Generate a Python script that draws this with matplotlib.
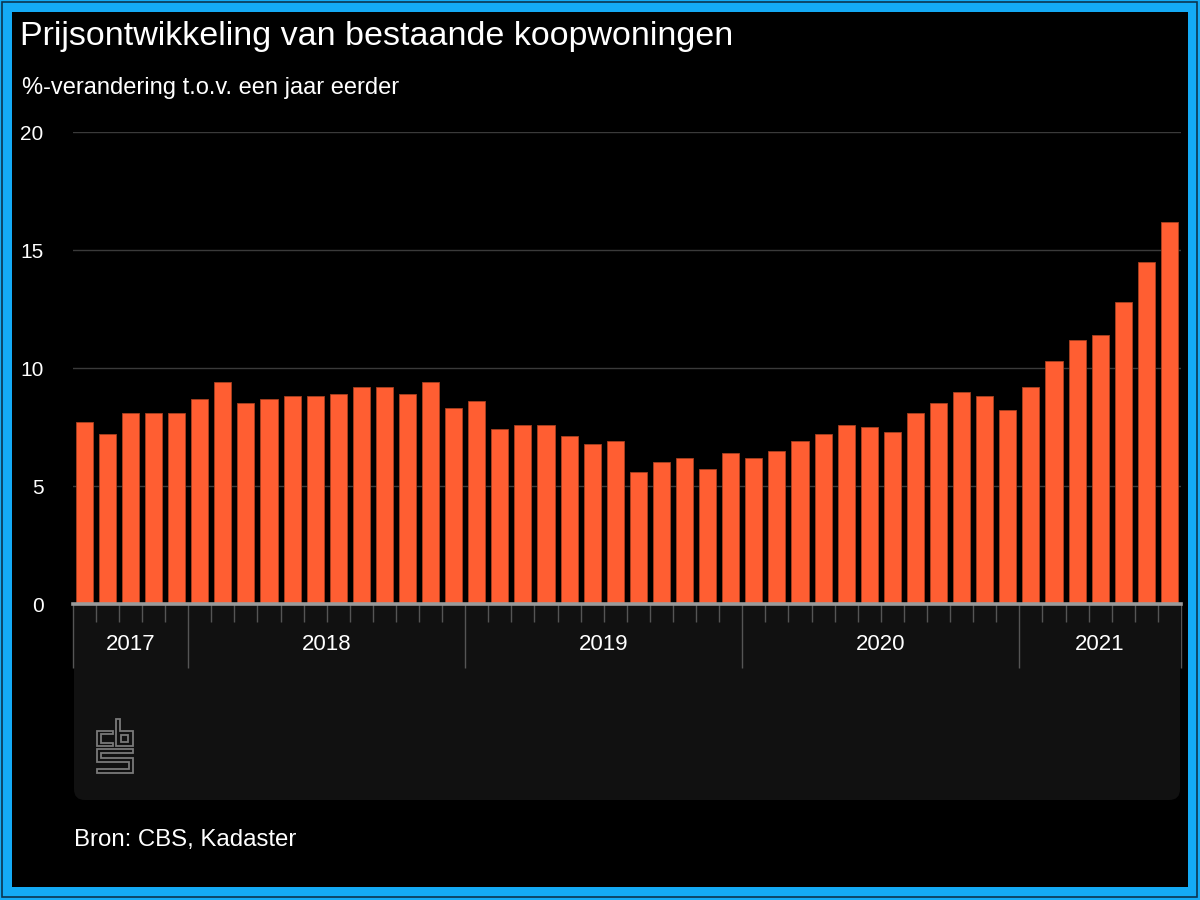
import matplotlib.pyplot as plt
from matplotlib.patches import Rectangle, FancyBboxPatch, Polygon
import numpy as np

plt.rcParams['font.family'] = ['Liberation Sans', 'DejaVu Sans']

# jaarmutatie prijsindex bestaande koopwoningen, aug 2017 - jul 2021
years = ['2017', '2018', '2019', '2020', '2021']
months_per_year = [5, 12, 12, 12, 7]
values = [7.7, 7.2, 8.1, 8.1, 8.1,
          8.7, 9.4, 8.5, 8.7, 8.8, 8.8, 8.9, 9.2, 9.2, 8.9, 9.4, 8.3,
          8.6, 7.4, 7.6, 7.6, 7.1, 6.8, 6.9, 5.6, 6.0, 6.2, 5.7, 6.4,
          6.2, 6.5, 6.9, 7.2, 7.6, 7.5, 7.3, 8.1, 8.5, 9.0, 8.8, 8.2,
          9.2, 10.3, 11.2, 11.4, 12.8, 14.5, 16.2]
yticks = [0, 5, 10, 15, 20]

W, H = 1200, 900


def fx(px):
    return px / W


def fy(py):
    return 1 - py / H


fig = plt.figure(figsize=(12, 9), dpi=100)
fig.patch.set_facecolor('#14AAF5')

# blauwe rand met donkere lijnen
fig.patches.append(Rectangle((fx(2), fy(897)), fx(1195), 895 / H, transform=fig.transFigure,
                             facecolor='none', edgecolor='#0B3550', lw=1.2, zorder=-4))
fig.patches.append(Rectangle((fx(12), fy(887)), fx(1176), 875 / H, transform=fig.transFigure,
                             facecolor='black', edgecolor='none', zorder=-3))
# donker paneel onder de as
fig.patches.append(FancyBboxPatch((fx(74), fy(800)), fx(1106), 230 / H,
                                  boxstyle='round,pad=0,rounding_size=0.009',
                                  transform=fig.transFigure, facecolor='#111111',
                                  edgecolor='none', zorder=-2, mutation_aspect=1.33))

ax = fig.add_axes([fx(72.7), fy(604), fx(1181 - 72.7), (604 - 132) / H])
ax.set_facecolor('black')

n = len(values)
x = np.arange(n)
ax.bar(x, values, width=0.74, color='#FF5E32', edgecolor='#A8401F', linewidth=0.6, zorder=3)

ax.set_xlim(-0.5, n - 0.5)
ax.set_ylim(0, 20)
ax.set_yticks(yticks)
ax.set_yticklabels([str(t) for t in yticks])
for t in yticks[1:]:
    ax.axhline(t, color='#3a3a3a', lw=1, zorder=1)
ax.axhline(0, color='#9a9a9a', lw=2.6, zorder=4, clip_on=False)

for s in ax.spines.values():
    s.set_visible(False)

ax.tick_params(axis='y', length=0, labelsize=15, labelcolor='white', pad=21)

# maandstreepjes en jaargrenzen
bounds = np.cumsum([0] + months_per_year) - 0.5
ax.set_xticks(bounds)
ax.set_xticklabels([])
ax.set_xticks(np.arange(n + 1) - 0.5, minor=True)
ax.tick_params(axis='x', which='major', length=46, width=1, color='#555555', direction='out', pad=0)
ax.tick_params(axis='x', which='minor', length=13, width=1, color='#555555', direction='out')

for i, yr in enumerate(years):
    mid = (bounds[i] + bounds[i + 1]) / 2
    ax.annotate(yr, xy=(mid, 0), xycoords=('data', 'axes fraction'),
                xytext=(0, -29.5), textcoords='offset points',
                ha='center', va='center', fontsize=16, color='white')

# cbs-logo
lx, ly = 90, 710


def logo_pts(pts):
    return [(fx(lx + a / 3), fy(ly + b / 3)) for a, b in pts]


shapes = [
    [(68, 62), (22, 62), (22, 108), (68, 108), (68, 98), (32, 98), (32, 72), (68, 72)],
    [(78, 28), (90, 28), (90, 62), (128, 62), (128, 108), (78, 108)],
    [(94, 75), (113, 75), (113, 95), (94, 95)],
    [(22, 118), (128, 118), (128, 130), (34, 130), (34, 144), (128, 144), (128, 188),
     (22, 188), (22, 176), (116, 176), (116, 156), (22, 156)],
]
for pts in shapes:
    fig.patches.append(Polygon(logo_pts(pts), closed=True, transform=fig.transFigure,
                               facecolor='none', edgecolor='#7a7a7a', lw=1.3, zorder=5))

fig.text(fx(20), fy(36), 'Prijsontwikkeling van bestaande koopwoningen',
         fontsize=24.5, color='white', ha='left', va='center')
fig.text(fx(22), fy(88), '%-verandering t.o.v. een jaar eerder',
         fontsize=17, color='white', ha='left', va='center')
fig.text(fx(74), fy(840), 'Bron: CBS, Kadaster',
         fontsize=17.3, color='white', ha='left', va='center')

fig.savefig('out.png', dpi=100, facecolor=fig.get_facecolor())
